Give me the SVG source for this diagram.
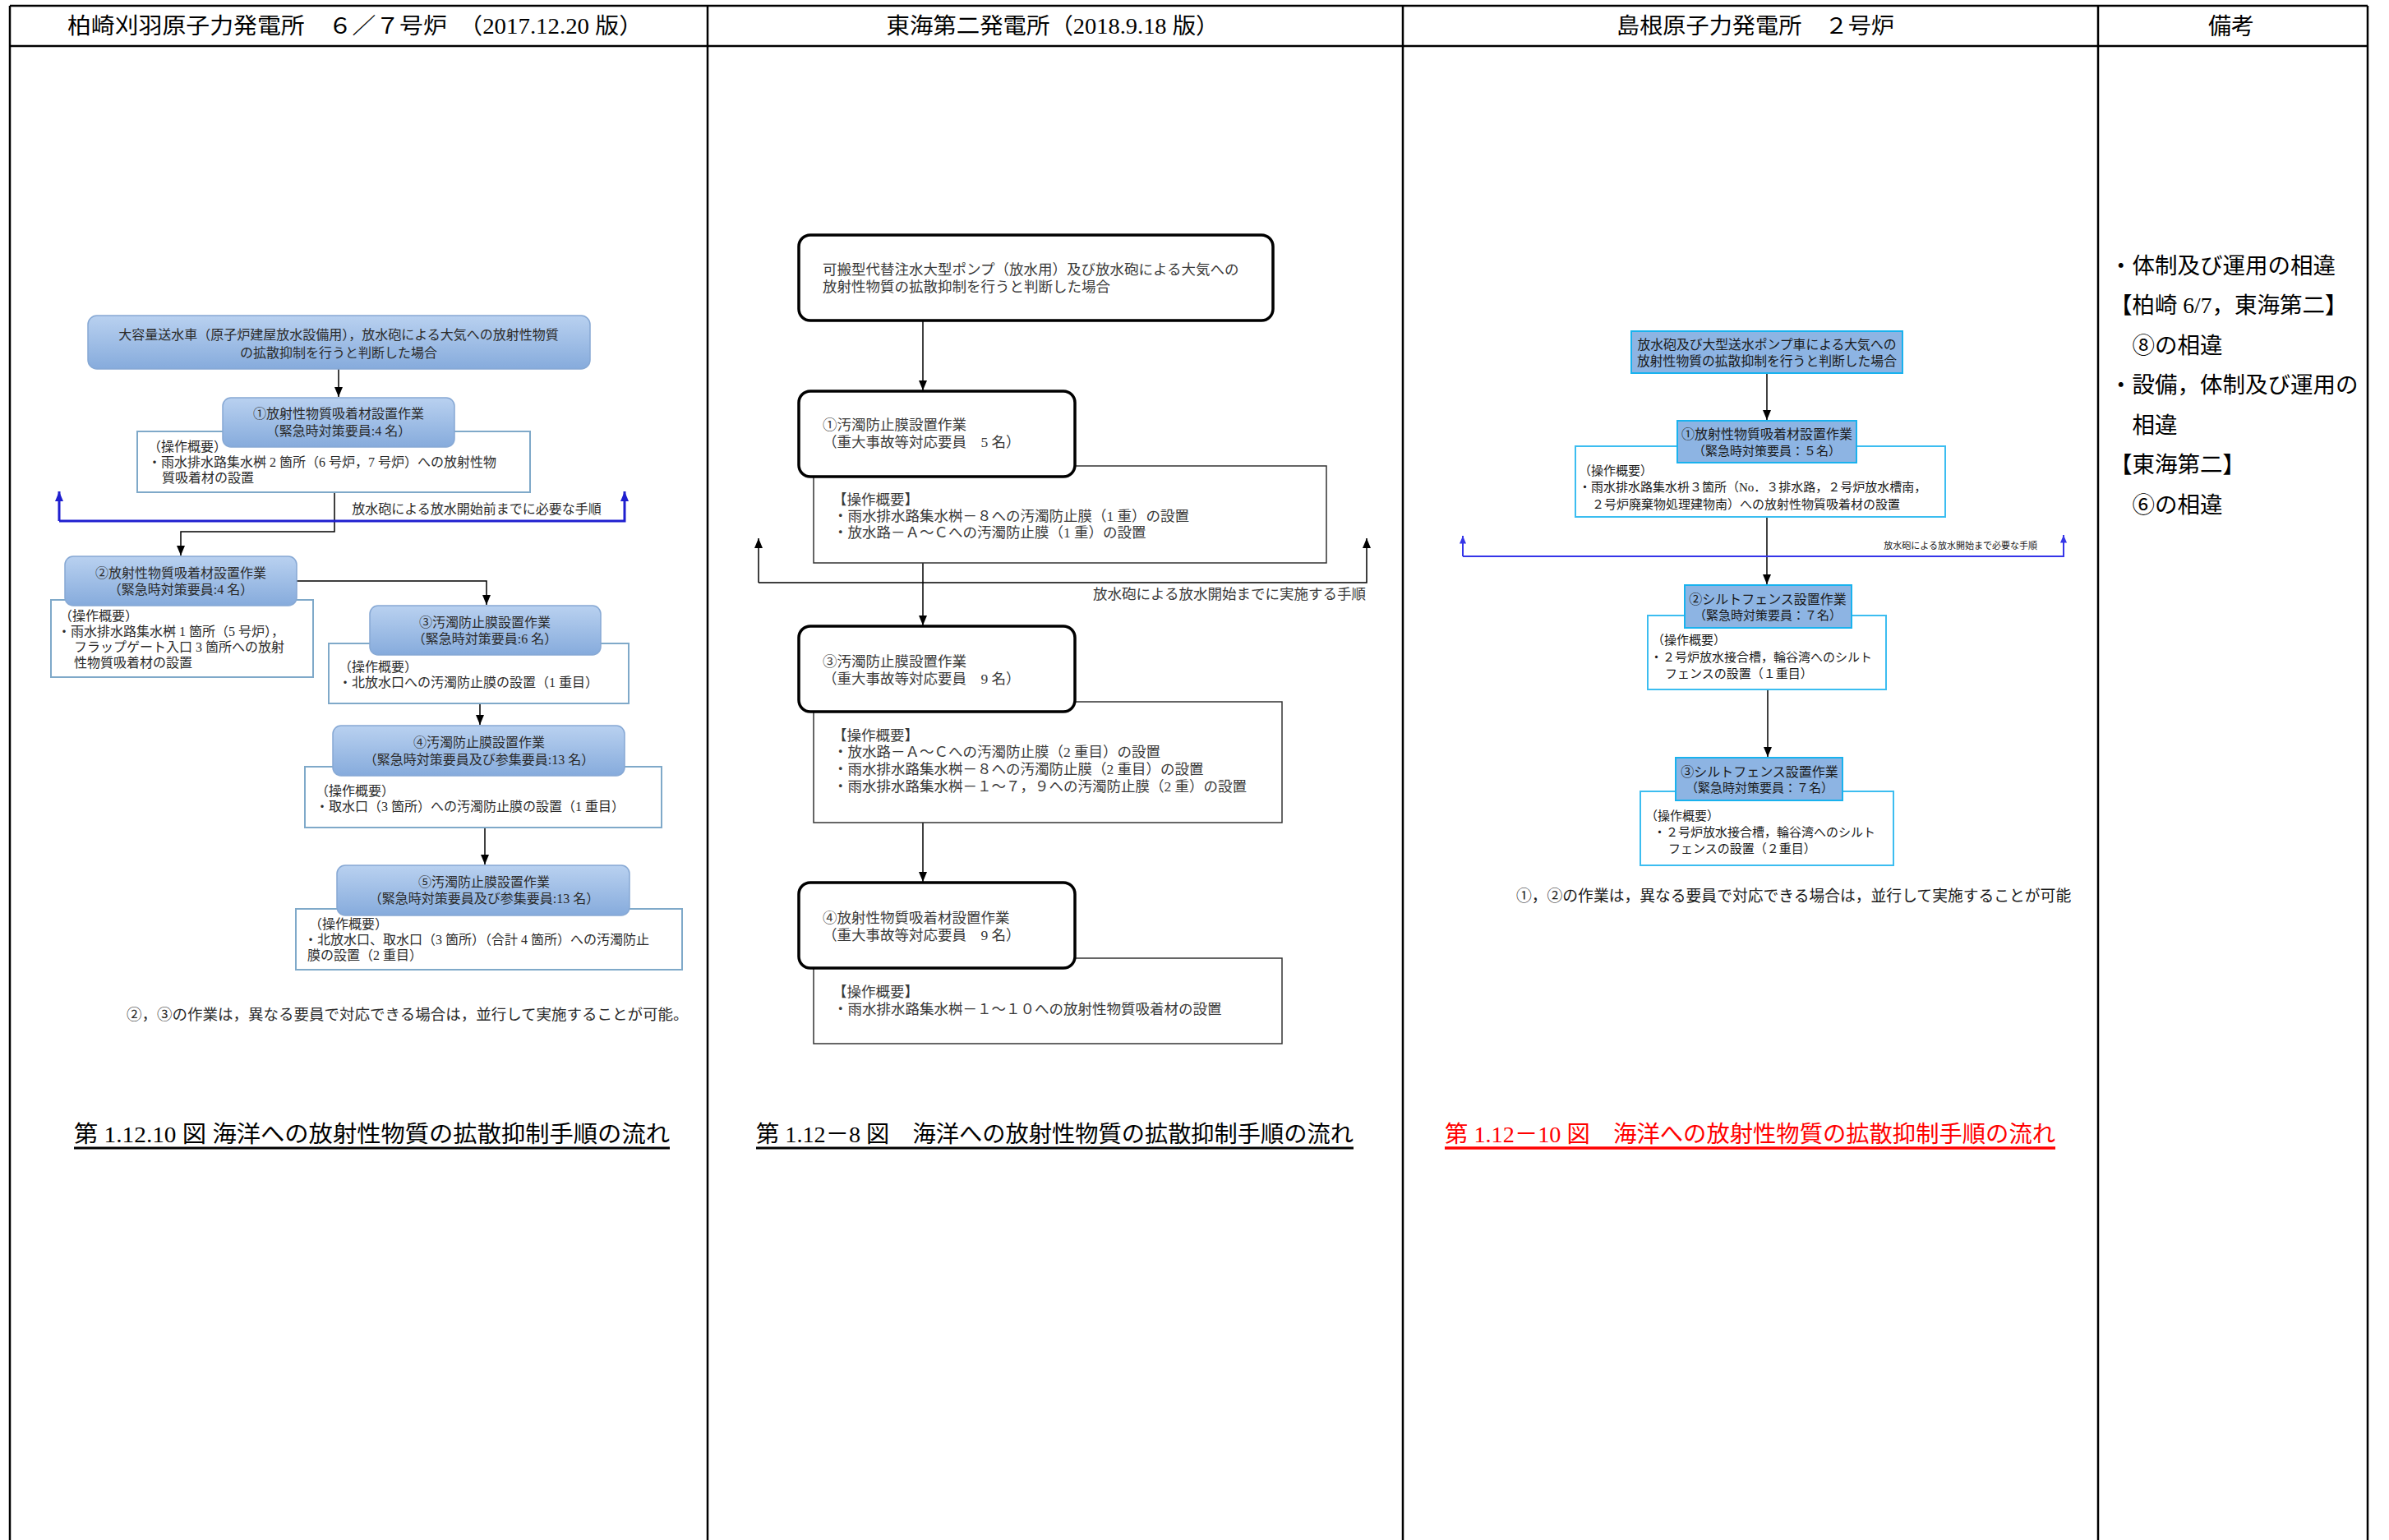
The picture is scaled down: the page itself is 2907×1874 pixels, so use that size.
<svg xmlns="http://www.w3.org/2000/svg" width="2907" height="1874" viewBox="0 0 2907 1874">
<style>
text{font-family:"Liberation Serif","Noto Sans CJK JP",serif;dominant-baseline:central}
.c{text-anchor:middle}
.e{text-anchor:end}
.f16{font-size:16px}
.f15{font-size:15px}
.f17{font-size:17.5px}
.hd{font-size:27px;fill:#000}
.lt{fill:#2b2b2b}
.mt{fill:#3a3a3a}
.rt{fill:#1a1a1a}
.grid{stroke:#000;stroke-width:2.5;fill:none}
.lbox{fill:url(#lg);stroke:#86a8d4;stroke-width:1.5}
.ldet{fill:#fff;stroke:#7fa9c9;stroke-width:2}
.mbox{fill:#fff;stroke:#000;stroke-width:3.5}
.mdet{fill:#fff;stroke:#333;stroke-width:1.5}
.rbox{fill:#8db4e3;stroke:#19b2ee;stroke-width:2}
.rdet{fill:#fff;stroke:#3cbdf0;stroke-width:2}
.k{stroke:#000;stroke-width:1.5;fill:none}
.kb{stroke:#1f1fcf;stroke-width:3;fill:none}
.kr{stroke:#3535e8;stroke-width:2;fill:none}
.cap{font-size:28px;fill:#000}
.rem{font-size:27.5px;fill:#000}
</style>
<defs>
<linearGradient id="lg" x1="0" y1="0" x2="0" y2="1">
<stop offset="0" stop-color="#b9d1f0"/>
<stop offset="1" stop-color="#86abdc"/>
</linearGradient>
<marker id="ah" viewBox="0 0 12 10" refX="12" refY="5" markerWidth="12" markerHeight="10" markerUnits="userSpaceOnUse" orient="auto">
<path d="M0,0 L12,5 L0,10 z" fill="#000"/>
</marker>
<marker id="ahb" viewBox="0 0 12 10" refX="12" refY="5" markerWidth="12" markerHeight="10" markerUnits="userSpaceOnUse" orient="auto">
<path d="M0,0 L12,5 L0,10 z" fill="#1f1fcf"/>
</marker>
<marker id="ahr" viewBox="0 0 12 10" refX="12" refY="5" markerWidth="10" markerHeight="8" markerUnits="userSpaceOnUse" orient="auto">
<path d="M0,0 L12,5 L0,10 z" fill="#3535e8"/>
</marker>
</defs>
<rect x="0" y="0" width="2907" height="1874" fill="#fff"/>

<g id="table">
<line class="grid" x1="12" y1="7" x2="2881" y2="7"/>
<line class="grid" x1="12" y1="56" x2="2881" y2="56"/>
<line class="grid" x1="12" y1="7" x2="12" y2="1874"/>
<line class="grid" x1="861" y1="7" x2="861" y2="1874"/>
<line class="grid" x1="1707" y1="7" x2="1707" y2="1874"/>
<line class="grid" x1="2553" y1="7" x2="2553" y2="1874"/>
<line class="grid" x1="2881" y1="7" x2="2881" y2="1874"/>
<text class="hd c" x="432" y="32" textLength="700" lengthAdjust="spacingAndGlyphs">柏崎刈羽原子力発電所　６／７号炉　（2017.12.20 版）</text>
<text class="hd c" x="1281" y="32" textLength="405" lengthAdjust="spacingAndGlyphs">東海第二発電所（2018.9.18 版）</text>
<text class="hd c" x="2136" y="32" textLength="338" lengthAdjust="spacingAndGlyphs">島根原子力発電所　２号炉</text>
<text class="hd c" style="font-size:28px" x="2715" y="32">備考</text>
</g>

<g id="connectors">
<line class="k" x1="412" y1="449" x2="412" y2="483" marker-end="url(#ah)"/>
<polyline class="k" points="407,599 407,647 220,647 220,676" marker-end="url(#ah)"/>
<polyline class="kb" points="72,634 72,598" marker-end="url(#ahb)"/>
<polyline class="kb" points="72,634 760,634 760,598" marker-end="url(#ahb)"/>
<polyline class="k" points="361,707 592,707 592,736" marker-end="url(#ah)"/>
<line class="k" x1="584" y1="856" x2="584" y2="882" marker-end="url(#ah)"/>
<line class="k" x1="590" y1="1007" x2="590" y2="1052" marker-end="url(#ah)"/>

<line class="k" x1="1123" y1="390" x2="1123" y2="475" marker-end="url(#ah)"/>
<line class="k" x1="1123" y1="685" x2="1123" y2="761" marker-end="url(#ah)"/>
<polyline class="k" points="923,709 923,655" marker-end="url(#ah)"/>
<polyline class="k" points="923,709 1663,709 1663,655" marker-end="url(#ah)"/>
<line class="k" x1="1123" y1="1001" x2="1123" y2="1073" marker-end="url(#ah)"/>

<line class="k" x1="2150" y1="454" x2="2150" y2="511" marker-end="url(#ah)"/>
<line class="k" x1="2150" y1="629" x2="2150" y2="711" marker-end="url(#ah)"/>
<polyline class="kr" points="1780,677 1780,652" marker-end="url(#ahr)"/>
<polyline class="kr" points="1780,677 2511,677 2511,651" marker-end="url(#ahr)"/>
<line class="k" x1="2151" y1="839" x2="2151" y2="921" marker-end="url(#ah)"/>
</g>

<g id="kk-start">
<rect class="lbox" x="107" y="384" width="611" height="65" rx="11"/>
<text class="lt f16 c" x="412" y="407">大容量送水車（原子炉建屋放水設備用），放水砲による大気への放射性物質</text>
<text class="lt f16 c" x="412" y="429">の拡散抑制を行うと判断した場合</text>
</g>
<g id="kk-step1">
<rect class="ldet" x="167" y="525" width="478" height="74"/>
<rect class="lbox" x="271" y="484" width="282" height="60" rx="10"/>
<text class="lt f16 c" x="412" y="503">①放射性物質吸着材設置作業</text>
<text class="lt f16 c" x="412" y="524">（緊急時対策要員:4 名）</text>
<text class="lt f16" x="180" y="543">（操作概要）</text>
<text class="lt f16" x="180" y="562">・雨水排水路集水桝 2 箇所（6 号炉，7 号炉）への放射性物</text>
<text class="lt f16" x="197" y="581">質吸着材の設置</text>
</g>
<g id="kk-label">
<text class="lt f16 c" x="580" y="619">放水砲による放水開始前までに必要な手順</text>
</g>
<g id="kk-step2">
<rect class="ldet" x="62" y="730" width="319" height="94"/>
<rect class="lbox" x="79" y="677" width="282" height="60" rx="10"/>
<text class="lt f16 c" x="220" y="697">②放射性物質吸着材設置作業</text>
<text class="lt f16 c" x="220" y="717">（緊急時対策要員:4 名）</text>
<text class="lt f16" x="72" y="749">（操作概要）</text>
<text class="lt f16" x="70" y="768">・雨水排水路集水桝 1 箇所（5 号炉），</text>
<text class="lt f16" x="90" y="787">フラップゲート入口 3 箇所への放射</text>
<text class="lt f16" x="90" y="806">性物質吸着材の設置</text>
</g>
<g id="kk-step3">
<rect class="ldet" x="400" y="783" width="365" height="73"/>
<rect class="lbox" x="450" y="737" width="281" height="60" rx="10"/>
<text class="lt f16 c" x="590" y="757">③汚濁防止膜設置作業</text>
<text class="lt f16 c" x="590" y="777">（緊急時対策要員:6 名）</text>
<text class="lt f16" x="412" y="811">（操作概要）</text>
<text class="lt f16" x="412" y="830">・北放水口への汚濁防止膜の設置（1 重目）</text>
</g>
<g id="kk-step4">
<rect class="ldet" x="371" y="933" width="434" height="74"/>
<rect class="lbox" x="405" y="883" width="355" height="61" rx="10"/>
<text class="lt f16 c" x="583" y="903">④汚濁防止膜設置作業</text>
<text class="lt f16 c" x="583" y="924">（緊急時対策要員及び参集要員:13 名）</text>
<text class="lt f16" x="384" y="962">（操作概要）</text>
<text class="lt f16" x="384" y="981">・取水口（3 箇所）への汚濁防止膜の設置（1 重目）</text>
</g>
<g id="kk-step5">
<rect class="ldet" x="360" y="1106" width="470" height="74"/>
<rect class="lbox" x="410" y="1053" width="356" height="61" rx="10"/>
<text class="lt f16 c" x="589" y="1073">⑤汚濁防止膜設置作業</text>
<text class="lt f16 c" x="589" y="1093">（緊急時対策要員及び参集要員:13 名）</text>
<text class="lt f16" x="376" y="1124">（操作概要）</text>
<text class="lt f16" x="370" y="1143">・北放水口、取水口（3 箇所）（合計 4 箇所）への汚濁防止</text>
<text class="lt f16" x="374" y="1162">膜の設置（2 重目）</text>
</g>
<g id="kk-note">
<text class="lt" style="font-size:18.5px" x="154" y="1235">②，③の作業は，異なる要員で対応できる場合は，並行して実施することが可能。</text>
</g>
<g id="kk-caption">
<text class="cap" x="90" y="1380" textLength="725" lengthAdjust="spacingAndGlyphs">第 1.12.10 図 海洋への放射性物質の拡散抑制手順の流れ</text>
<line x1="90" y1="1397" x2="815" y2="1397" stroke="#000" stroke-width="3"/>
</g>

<g id="tk-start">
<rect class="mbox" x="972" y="286" width="577" height="104" rx="14"/>
<text class="mt f17" x="1001" y="328">可搬型代替注水大型ポンプ（放水用）及び放水砲による大気への</text>
<text class="mt f17" x="1001" y="349">放射性物質の拡散抑制を行うと判断した場合</text>
</g>
<g id="tk-step1">
<rect class="mdet" x="990" y="567" width="624" height="118"/>
<rect class="mbox" x="972" y="476" width="336" height="104" rx="14"/>
<text class="mt f17" x="1001" y="517">①汚濁防止膜設置作業</text>
<text class="mt f17" x="1001" y="538">（重大事故等対応要員　5 名）</text>
<text class="mt f17" x="1013" y="608">【操作概要】</text>
<text class="mt f17" x="1014" y="628">・雨水排水路集水桝－８への汚濁防止膜（1 重）の設置</text>
<text class="mt f17" x="1014" y="648">・放水路－Ａ～Ｃへの汚濁防止膜（1 重）の設置</text>
</g>
<g id="tk-label">
<text class="mt e f17" x="1662" y="723">放水砲による放水開始までに実施する手順</text>
</g>
<g id="tk-step3">
<rect class="mdet" x="990" y="854" width="570" height="147"/>
<rect class="mbox" x="972" y="762" width="336" height="104" rx="14"/>
<text class="mt f17" x="1001" y="805">③汚濁防止膜設置作業</text>
<text class="mt f17" x="1001" y="826">（重大事故等対応要員　9 名）</text>
<text class="mt f17" x="1013" y="895">【操作概要】</text>
<text class="mt f17" x="1014" y="915">・放水路－Ａ～Ｃへの汚濁防止膜（2 重目）の設置</text>
<text class="mt f17" x="1014" y="936">・雨水排水路集水桝－８への汚濁防止膜（2 重目）の設置</text>
<text class="mt f17" x="1014" y="957">・雨水排水路集水桝－１～７，９への汚濁防止膜（2 重）の設置</text>
</g>
<g id="tk-step4">
<rect class="mdet" x="990" y="1166" width="570" height="104"/>
<rect class="mbox" x="972" y="1074" width="336" height="104" rx="14"/>
<text class="mt f17" x="1001" y="1117">④放射性物質吸着材設置作業</text>
<text class="mt f17" x="1001" y="1138">（重大事故等対応要員　9 名）</text>
<text class="mt f17" x="1013" y="1207">【操作概要】</text>
<text class="mt f17" x="1014" y="1228">・雨水排水路集水桝－１～１０への放射性物質吸着材の設置</text>
</g>
<g id="tk-caption">
<text class="cap" x="920" y="1380" textLength="727" lengthAdjust="spacingAndGlyphs">第 1.12－8 図　海洋への放射性物質の拡散抑制手順の流れ</text>
<line x1="920" y1="1397" x2="1647" y2="1397" stroke="#000" stroke-width="3"/>
</g>

<g id="sm-start">
<rect class="rbox" x="1985" y="403" width="330" height="51"/>
<text class="rt c" style="font-size:15.8px" x="2150" y="419">放水砲及び大型送水ポンプ車による大気への</text>
<text class="rt c" style="font-size:15.8px" x="2150" y="439">放射性物質の拡散抑制を行うと判断した場合</text>
</g>
<g id="sm-step1">
<rect class="rdet" x="1917" y="543" width="450" height="86"/>
<rect class="rbox" x="2041" y="512" width="218" height="51"/>
<text class="rt f16 c" x="2150" y="528">①放射性物質吸着材設置作業</text>
<text class="rt f15 c" x="2150" y="549">（緊急時対策要員：５名）</text>
<text class="rt f15" x="1921" y="573">（操作概要）</text>
<text class="rt f15" x="1921" y="593">・雨水排水路集水枡３箇所（No．３排水路，２号炉放水槽南，</text>
<text class="rt f15" x="1937" y="614">２号炉廃棄物処理建物南）への放射性物質吸着材の設置</text>
</g>
<g id="sm-label">
<text class="rt e" style="font-size:11px" x="2479" y="664">放水砲による放水開始まで必要な手順</text>
</g>
<g id="sm-step2">
<rect class="rdet" x="2005" y="749" width="290" height="90"/>
<rect class="rbox" x="2050" y="712" width="203" height="52"/>
<text class="rt f16 c" x="2151" y="729">②シルトフェンス設置作業</text>
<text class="rt f15 c" x="2151" y="749">（緊急時対策要員：７名）</text>
<text class="rt f15" x="2010" y="779">（操作概要）</text>
<text class="rt f15" x="2008" y="800">・２号炉放水接合槽，輪谷湾へのシルト</text>
<text class="rt f15" x="2026" y="820">フェンスの設置（１重目）</text>
</g>
<g id="sm-step3">
<rect class="rdet" x="1996" y="963" width="308" height="90"/>
<rect class="rbox" x="2039" y="922" width="203" height="52"/>
<text class="rt f16 c" x="2141" y="939">③シルトフェンス設置作業</text>
<text class="rt f15 c" x="2141" y="959">（緊急時対策要員：７名）</text>
<text class="rt f15" x="2002" y="993">（操作概要）</text>
<text class="rt f15" x="2012" y="1013">・２号炉放水接合槽，輪谷湾へのシルト</text>
<text class="rt f15" x="2030" y="1033">フェンスの設置（２重目）</text>
</g>
<g id="sm-note">
<text class="rt" style="font-size:18.8px" x="1845" y="1090">①，②の作業は，異なる要員で対応できる場合は，並行して実施することが可能</text>
</g>
<g id="sm-caption">
<text class="cap" x="1758" y="1380" style="fill:#ff0000" textLength="743" lengthAdjust="spacingAndGlyphs">第 1.12－10 図　海洋への放射性物質の拡散抑制手順の流れ</text>
<line x1="1758" y1="1397" x2="2501" y2="1397" stroke="#ff0000" stroke-width="3.5"/>
</g>

<g id="remarks">
<text class="rem" x="2567" y="323">・体制及び運用の相違</text>
<text class="rem" x="2567" y="371">【柏崎 6/7，東海第二】</text>
<text class="rem" x="2567" y="420">　⑧の相違</text>
<text class="rem" x="2567" y="468">・設備，体制及び運用の</text>
<text class="rem" x="2567" y="517">　相違</text>
<text class="rem" x="2567" y="565">【東海第二】</text>
<text class="rem" x="2567" y="614">　⑥の相違</text>
</g>
</svg>
